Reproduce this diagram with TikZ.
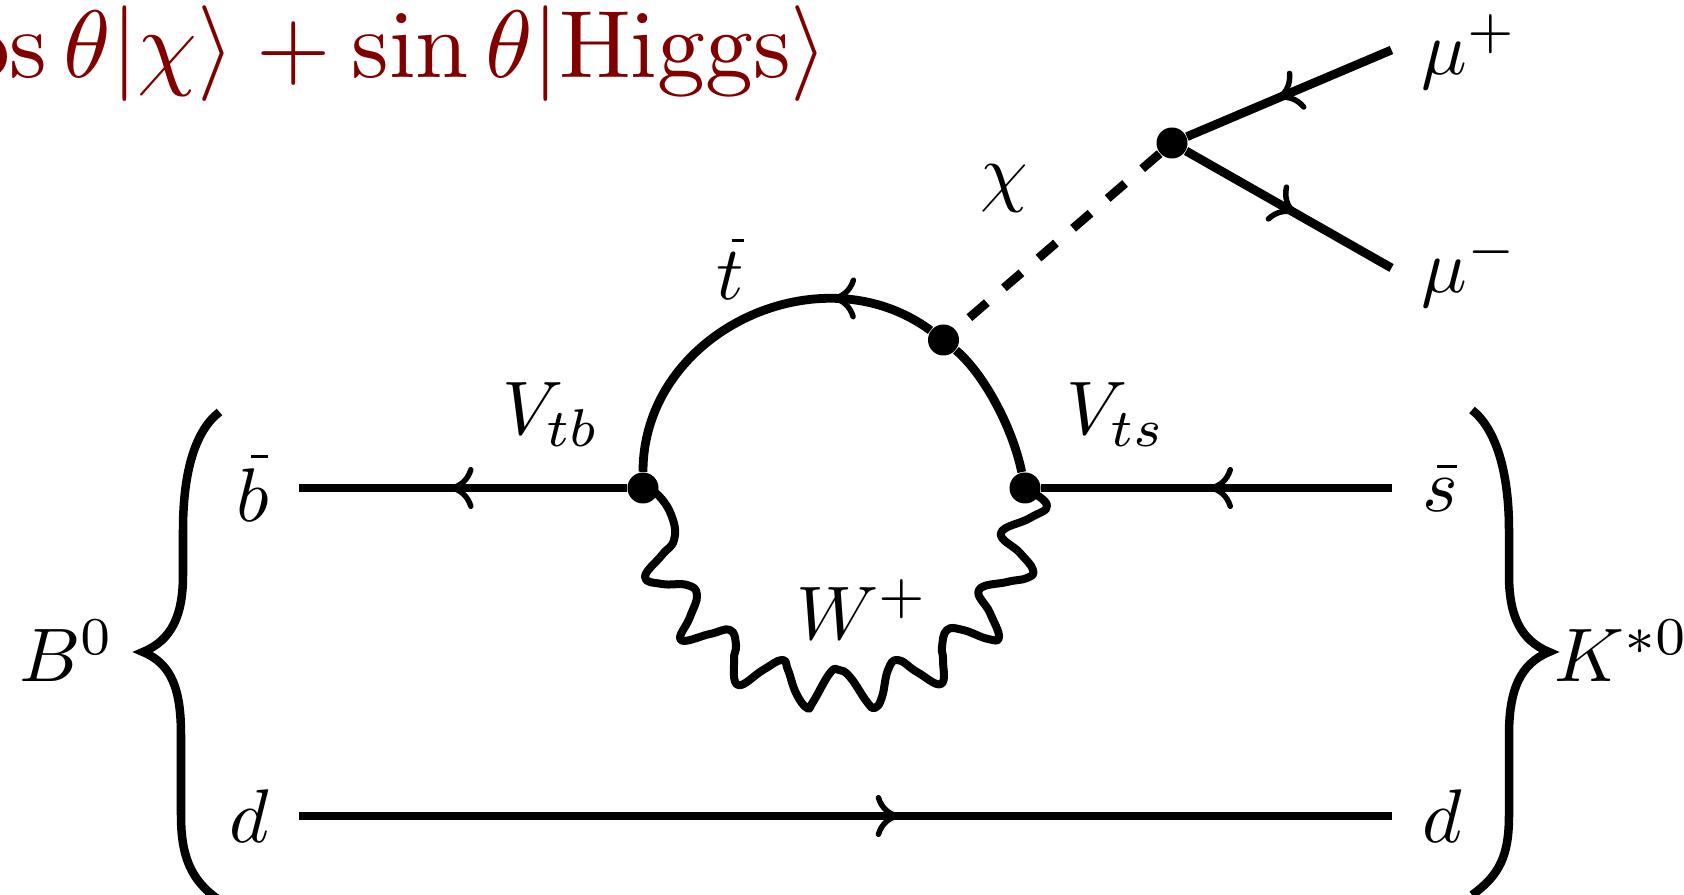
\documentclass[tikz,border=0pt]{standalone}
\usepackage{amsmath,amssymb}
\usepackage{xcolor}
\usetikzlibrary{arrows.meta,decorations.markings}
\definecolor{maroon}{HTML}{800000}
\newcommand{\shortbar}[3]{\rlap{\kern#2\rule[#3]{#1}{0.33pt}}}

\begin{document}
\begin{tikzpicture}[
  x=0.01cm,y=-0.01cm,
  vertex/.style={circle,fill=black,inner sep=0pt,minimum size=0.31cm},
  lab/.style={scale=2.16,inner sep=0pt,anchor=base},
  fermion/.style={line width=0.088cm,decoration={markings,
    mark=at position #1 with {\arrow{To[length=0.24cm,width=0.42cm,line width=0.055cm]}}},
    postaction={decorate}},
  scalar/.style={line width=0.088cm,dash pattern=on 0.23cm off 0.226cm,dash phase=0.276cm},
  wboson/.style={line width=0.08cm,line join=round},
  bracket/.style={line width=0.085cm}
]
\useasboundingbox (0,0) rectangle (1684,895);
\node[vertex] (vl) at (643,488) {};
\node[vertex] (vr) at (1025,488) {};
\node[vertex] (vm) at (943.5,340) {};
\node[vertex] (vc) at (1172,143) {};
\coordinate (bl) at (298.6,488);
\coordinate (sr) at (1391.5,488);
\coordinate (dl) at (298.6,816);
\coordinate (dr) at (1391.5,816);
\coordinate (mp) at (1391.5,50);
\coordinate (mm) at (1391.5,268);
\draw[fermion=0.54] (vl)--(bl);
\draw[fermion=0.521] (sr)--(vr);
\draw[fermion=0.55] (dl)--(dr);
\draw[fermion=0.56] (mp)--(vc);
\draw[fermion=0.535] (vc)--(mm);
\draw[line width=0.088cm] (vr) .. controls (1012,425) and (982,372) .. (vm);
\draw[fermion=0.27] (vm) .. controls (820,249) and (643,332) .. (vl);
\draw[scalar] (vm)--(vc);
\draw[wboson] plot[smooth,tension=0.75] coordinates {(vl) (658,495) (672,517) (674,540)
  (662,555) (645,577) (662,584) (687,585) (697,595) (690,617) (681,640) (710,634)
  (730,630) (736,645) (734,660) (738,685) (763,670) (782,660) (788,670) (796,693)
  (807,708) (813,702) (830,673) (839,670) (850,677) (867,702) (875,708) (882,697)
  (888,670) (898,660) (917,672) (941,684) (943,660) (942,647) (947,630) (963,630)
  (988,639) (999,637) (990,613) (979,590) (1007,582) (1027,578) (1033,570) (1020,553)
  (1001,533) (1030,518) (1047,505) (vr)};
\draw[bracket] (219.5,412) .. controls (196,430) and (183,470) .. (183,530)--(183,575)
  .. controls (183,615) and (172,640) .. (143,652)
  .. controls (172,664) and (181,690) .. (181,735)--(181,815)
  .. controls (181,855) and (190,880) .. (219,900);
\draw[bracket] (1472,410) .. controls (1495,428) and (1509,470) .. (1509,530)--(1509,575)
  .. controls (1509,615) and (1520,640) .. (1549,652)
  .. controls (1520,664) and (1509,690) .. (1509,735)--(1509,815)
  .. controls (1509,855) and (1500,875) .. (1472,895);
\node[scale=2.72,inner sep=0pt,anchor=base east,text=maroon] (mix) at (830,78)
  {$\cos\theta|\chi\rangle+\sin\theta|\mathrm{Higgs}\rangle$};
\node[lab] (lb) at (253,522) {$\shortbar{2.25pt}{1.88pt}{8.46pt}b$};
\node[lab] (ldl) at (249,843) {$d$};
\node[lab] (ls) at (1440,512) {$\shortbar{2.6pt}{1.93pt}{5.83pt}s$};
\node[lab] (ldr) at (1442,843) {$d$};
\node[lab] (lmp) at (1470,75) {$\mu^+$};
\node[lab] (lmm) at (1470,293) {$\mu^-$};
\node[lab] (lchi) at (1004,198) {$\chi$};
\node[lab] (lt) at (730,300) {$\shortbar{1.66pt}{2.03pt}{7.67pt}t$};
\node[lab] (ltb) at (551,435) {$V_{tb}$};
\node[lab] (lts) at (1116,435) {$V_{ts}$};
\node[lab] (lw) at (863,640) {$W^+$};
\node[lab] (lbz) at (67,682) {$B^0$};
\node[lab] (lks) at (1622,682) {$K^{*0}$};
\end{tikzpicture}
\end{document}
